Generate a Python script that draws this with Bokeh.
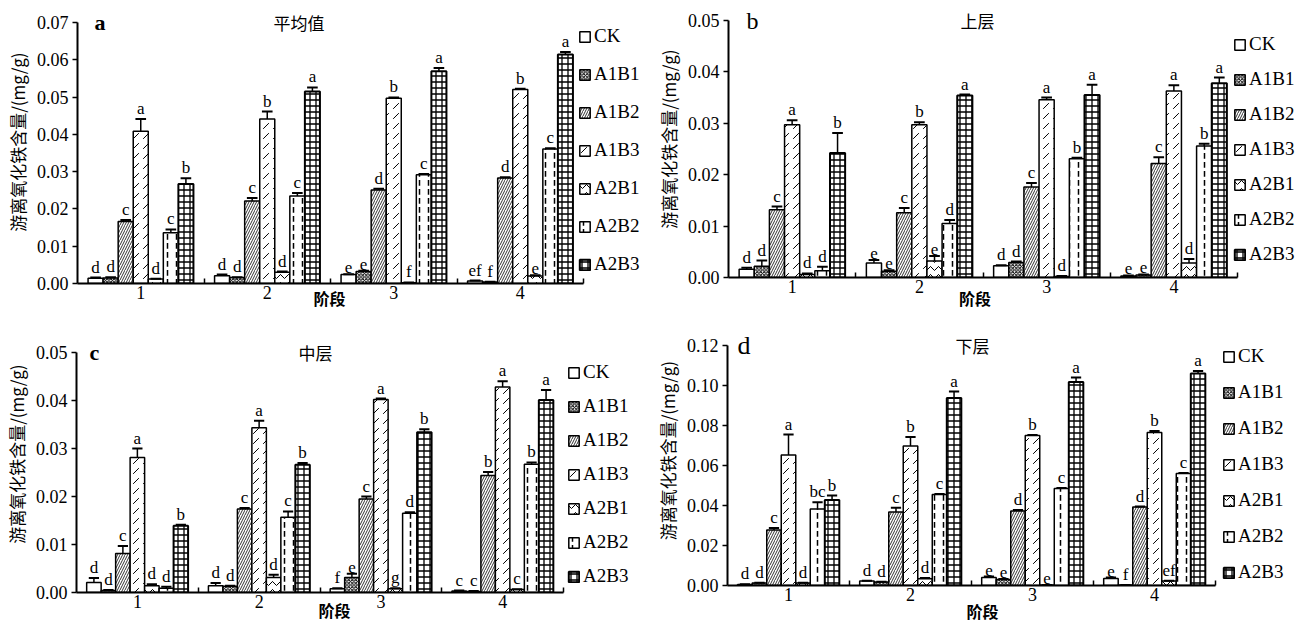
from bokeh.plotting import figure
from bokeh.layouts import column, row
from bokeh.models import ColumnDataSource, FixedTicker, Label, NumeralTickFormatter, Range1d
from bokeh.core.properties import value
from bokeh.embed import file_html
from bokeh.resources import INLINE

stages = [1, 2, 3, 4]
stage_labels = ["1", "2", "3", "4"]
series = ["CK", "A1B1", "A1B2", "A1B3", "A2B1", "A2B2", "A2B3"]

# ---- panel a: 平均值 ----
avg_values = [
    [0.0014, 0.0021, 0.0024, 0.0007],
    [0.0015, 0.0016, 0.0032, 0.0004],
    [0.0166, 0.0221, 0.0251, 0.0283],
    [0.0408, 0.0441, 0.0497, 0.0520],
    [0.0012, 0.0030, 0.0002, 0.0020],
    [0.0136, 0.0235, 0.0292, 0.0361],
    [0.0267, 0.0515, 0.0569, 0.0614],
]
avg_errors = [
    [0.0002, 0.0003, 0.0001, 0.0001],
    [0.0002, 0.0001, 0.0002, 0.0001],
    [0.0004, 0.0008, 0.0003, 0.0002],
    [0.0033, 0.0020, 0.0002, 0.0002],
    [0.0001, 0.0002, 0.0001, 0.0002],
    [0.0009, 0.0008, 0.0002, 0.0002],
    [0.0015, 0.0011, 0.0009, 0.0007],
]
avg_letters = [
    ["d", "d", "e", "ef"],
    ["d", "d", "e", "f"],
    ["c", "c", "d", "d"],
    ["a", "b", "b", "b"],
    ["d", "d", "f", "e"],
    ["c", "c", "c", "c"],
    ["b", "a", "a", "a"],
]

# ---- panel b: 上层 ----
upper_values = [
    [0.0016, 0.0028, 0.0023, 0.0003],
    [0.0022, 0.0012, 0.0029, 0.0005],
    [0.0132, 0.0126, 0.0176, 0.0222],
    [0.0297, 0.0297, 0.0346, 0.0363],
    [0.0006, 0.0032, 0.0002, 0.0028],
    [0.0013, 0.0105, 0.0231, 0.0256],
    [0.0242, 0.0354, 0.0355, 0.0378],
]
upper_errors = [
    [0.0003, 0.0006, 0.0001, 0.0001],
    [0.0011, 0.0002, 0.0002, 0.0001],
    [0.0006, 0.0009, 0.0008, 0.0012],
    [0.0009, 0.0005, 0.0004, 0.0011],
    [0.0002, 0.0010, 0.0001, 0.0008],
    [0.0008, 0.0007, 0.0002, 0.0004],
    [0.0039, 0.0002, 0.0020, 0.0011],
]
upper_letters = [
    ["d", "e", "d", "e"],
    ["d", "e", "d", "e"],
    ["c", "c", "c", "c"],
    ["a", "b", "a", "a"],
    ["d", "e", "d", "d"],
    ["d", "d", "b", "b"],
    ["b", "a", "a", "a"],
]

# ---- panel c: 中层 ----
middle_values = [
    [0.0021, 0.0014, 0.0008, 0.0003],
    [0.0004, 0.0013, 0.0031, 0.0002],
    [0.0081, 0.0174, 0.0195, 0.0244],
    [0.0281, 0.0343, 0.0402, 0.0428],
    [0.0014, 0.0031, 0.0008, 0.0006],
    [0.0009, 0.0157, 0.0165, 0.0267],
    [0.0139, 0.0266, 0.0334, 0.0401],
]
middle_errors = [
    [0.0009, 0.0006, 0.0001, 0.0001],
    [0.0001, 0.0001, 0.0008, 0.0001],
    [0.0016, 0.0002, 0.0005, 0.0007],
    [0.0019, 0.0015, 0.0002, 0.0012],
    [0.0003, 0.0006, 0.0001, 0.0001],
    [0.0003, 0.0012, 0.0002, 0.0004],
    [0.0002, 0.0004, 0.0006, 0.0021],
]
middle_letters = [
    ["d", "d", "f", "c"],
    ["d", "d", "e", "c"],
    ["c", "c", "c", "b"],
    ["a", "a", "a", "a"],
    ["d", "d", "g", "c"],
    ["d", "c", "d", "b"],
    ["b", "b", "b", "a"],
]

# ---- panel d: 下层 ----
lower_values = [
    [0.0005, 0.0022, 0.0040, 0.0035],
    [0.0012, 0.0017, 0.0030, 0.0002],
    [0.0278, 0.0367, 0.0372, 0.0392],
    [0.0653, 0.0697, 0.0750, 0.0765],
    [0.0012, 0.0034, 0.0002, 0.0022],
    [0.0383, 0.0455, 0.0485, 0.0560],
    [0.0428, 0.0938, 0.1018, 0.1060],
]
lower_errors = [
    [0.0001, 0.0002, 0.0005, 0.0005],
    [0.0002, 0.0002, 0.0002, 0.0001],
    [0.0010, 0.0022, 0.0006, 0.0003],
    [0.0102, 0.0045, 0.0002, 0.0007],
    [0.0002, 0.0003, 0.0001, 0.0002],
    [0.0033, 0.0003, 0.0002, 0.0003],
    [0.0022, 0.0032, 0.0022, 0.0013],
]
lower_letters = [
    ["d", "d", "e", "e"],
    ["d", "d", "e", "f"],
    ["c", "c", "d", "d"],
    ["a", "b", "b", "b"],
    ["d", "d", "e", "ef"],
    ["bc", "c", "c", "c"],
    ["b", "a", "a", "a"],
]

# styles per series (pattern, scale, weight, outline width)
styles = [
    dict(hatch_pattern=" ", hatch_scale=6, hatch_weight=1, line_width=1.5),
    dict(hatch_pattern="x", hatch_scale=3.5, hatch_weight=1, line_width=1.5),
    dict(hatch_pattern="/", hatch_scale=5, hatch_weight=0.8, line_width=1.5),
    dict(hatch_pattern=",", hatch_scale=10, hatch_weight=1, line_width=1.5),
    dict(hatch_pattern="v", hatch_scale=8, hatch_weight=1, line_width=1.5),
    dict(hatch_pattern=":", hatch_scale=9, hatch_weight=1.5, line_width=1.5),
    dict(hatch_pattern="+", hatch_scale=6, hatch_weight=1.3, line_width=2),
]

SERIF = "'Liberation Serif'"
CJK = "'Noto Sans CJK SC'"
BAR_W = 0.119
IDEO_SPACE = "\u3000"


def make_panel(values, errors, letters, ymax, ystep, panel_letter, letter_bold, letter_size,
               letter_dx, title, title_dx, xlabel_standoff, xlabel_pad,
               border_left, border_right, frame_w, top_px, base_px, fig_h,
               axis_px, legend_loc, legend_spacing):
    x_end = 0.5 + frame_w * 4.0 / axis_px
    y_end = ymax * (1.0 + top_px / float(base_px - top_px))
    p = figure(frame_width=frame_w, frame_height=base_px,
               x_range=Range1d(0.5, x_end), y_range=Range1d(0, y_end),
               output_backend="svg", toolbar_location=None,
               min_border_left=border_left, min_border_top=0,
               min_border_bottom=fig_h - base_px, min_border_right=border_right)
    p.outline_line_color = None
    p.xgrid.visible = False
    p.ygrid.visible = False
    p.background_fill_color = "white"

    for i, name in enumerate(series):
        xs = [s + (i - 3) * BAR_W for s in stages]
        tops = values[i]
        errs = errors[i]
        src = ColumnDataSource(dict(x=xs, top=tops))
        st = styles[i]
        p.vbar(x="x", top="top", width=BAR_W, source=src,
               fill_color="white", line_color="black", line_width=st["line_width"],
               hatch_pattern=st["hatch_pattern"], hatch_scale=st["hatch_scale"],
               hatch_weight=st["hatch_weight"], hatch_color="black",
               legend_label=name)
        ehi = [t + e for t, e in zip(tops, errs)]
        p.segment(x0=xs, y0=tops, x1=xs, y1=ehi, line_color="black", line_width=1.5)
        p.segment(x0=[x - 0.042 for x in xs], y0=ehi, x1=[x + 0.042 for x in xs], y1=ehi,
                  line_color="black", line_width=2)
        p.text(x=xs, y=ehi, text=letters[i], text_font=value(SERIF), text_font_size="17px",
               text_align="center", text_baseline="bottom", y_offset=-1, text_color="black")

    xa = p.xaxis[0]
    xa.bounds = (stages[0] - 0.5, stages[-1] + 0.5)
    xa.ticker = FixedTicker(ticks=stages, minor_ticks=[s + 0.5 for s in stages])
    xa.major_label_overrides = {s: l for s, l in zip(stages, stage_labels)}
    xa.axis_line_color = "black"
    xa.axis_line_width = 2
    xa.major_tick_in = 0
    xa.major_tick_out = 0
    xa.minor_tick_in = 5
    xa.minor_tick_out = 0
    xa.minor_tick_line_width = 1.5
    xa.major_label_text_font = SERIF
    xa.major_label_text_font_size = "18px"
    xa.major_label_text_color = "black"
    xa.major_label_standoff = 2
    xa.axis_label = "阶段" + IDEO_SPACE * xlabel_pad
    xa.axis_label_text_font = CJK
    xa.axis_label_text_font_style = "bold"
    xa.axis_label_text_font_size = "16px"
    xa.axis_label_text_color = "black"
    xa.axis_label_standoff = xlabel_standoff

    ya = p.yaxis[0]
    nt = int(round(ymax / ystep))
    ya.bounds = (0, ymax)
    ya.ticker = FixedTicker(ticks=[k * ystep for k in range(nt + 1)], minor_ticks=[])
    ya.formatter = NumeralTickFormatter(format="0.00")
    ya.axis_line_width = 2
    ya.axis_line_color = "black"
    ya.major_tick_in = 0
    ya.major_tick_out = 5
    ya.major_tick_line_width = 1.5
    ya.minor_tick_in = 0
    ya.minor_tick_out = 0
    ya.major_label_text_font = SERIF
    ya.major_label_text_font_size = "18px"
    ya.major_label_text_color = "black"
    ya.major_label_standoff = 4
    ya.axis_label = "游离氧化铁含量/(mg/g)"
    ya.axis_label_text_font = CJK
    ya.axis_label_text_font_style = "normal"
    ya.axis_label_text_font_size = "17px"
    ya.axis_label_text_color = "black"
    ya.axis_label_standoff = 4

    p.add_layout(Label(x=letter_dx, y=ymax, x_units="screen", y_units="data", text=panel_letter,
                       text_font=SERIF, text_font_size=letter_size,
                       text_font_style="bold" if letter_bold else "normal",
                       text_baseline="middle", text_align="left", text_color="black"))
    p.add_layout(Label(x=title_dx, y=ymax, x_units="screen", y_units="data", text=title,
                       text_font=CJK, text_font_size="17px", text_baseline="middle",
                       text_align="left", text_color="black"))

    leg = p.legend[0]
    leg.location = legend_loc
    leg.padding = 0
    leg.margin = 0
    leg.spacing = legend_spacing
    leg.glyph_width = 13
    leg.glyph_height = 13
    leg.label_height = 20
    leg.label_standoff = 3
    leg.label_text_font = SERIF
    leg.label_text_font_size = "19px"
    leg.label_text_color = "black"
    leg.border_line_color = None
    leg.background_fill_alpha = 0
    return p


pa = make_panel(avg_values, avg_errors, avg_letters, 0.07, 0.01, "a", True, "22px", 17,
                "平均值", 196, -16, 4,
                77, 5, 568, 22, 283, 315, 506, (501, 8), 16)
pb = make_panel(upper_values, upper_errors, upper_letters, 0.05, 0.01, "b", False, "24px", 18,
                "上层", 232, -10, 5,
                78, 0, 573, 20, 277, 315, 509, (505, 12), 13)
pc = make_panel(middle_values, middle_errors, middle_letters, 0.05, 0.01, "c", True, "22px", 13,
                "中层", 222, -13, 3,
                76, 10, 564, 37, 277, 316, 487, (491, 5), 12)
pd = make_panel(lower_values, lower_errors, lower_letters, 0.12, 0.02, "d", False, "26px", 10,
                "下层", 228, -5, 4,
                77, 0, 574, 30, 270, 316, 488, (495, 2), 14)

layout = column(row(pa, pb), row(pc, pd))
open("out.html", "w").write(file_html(layout, INLINE))
